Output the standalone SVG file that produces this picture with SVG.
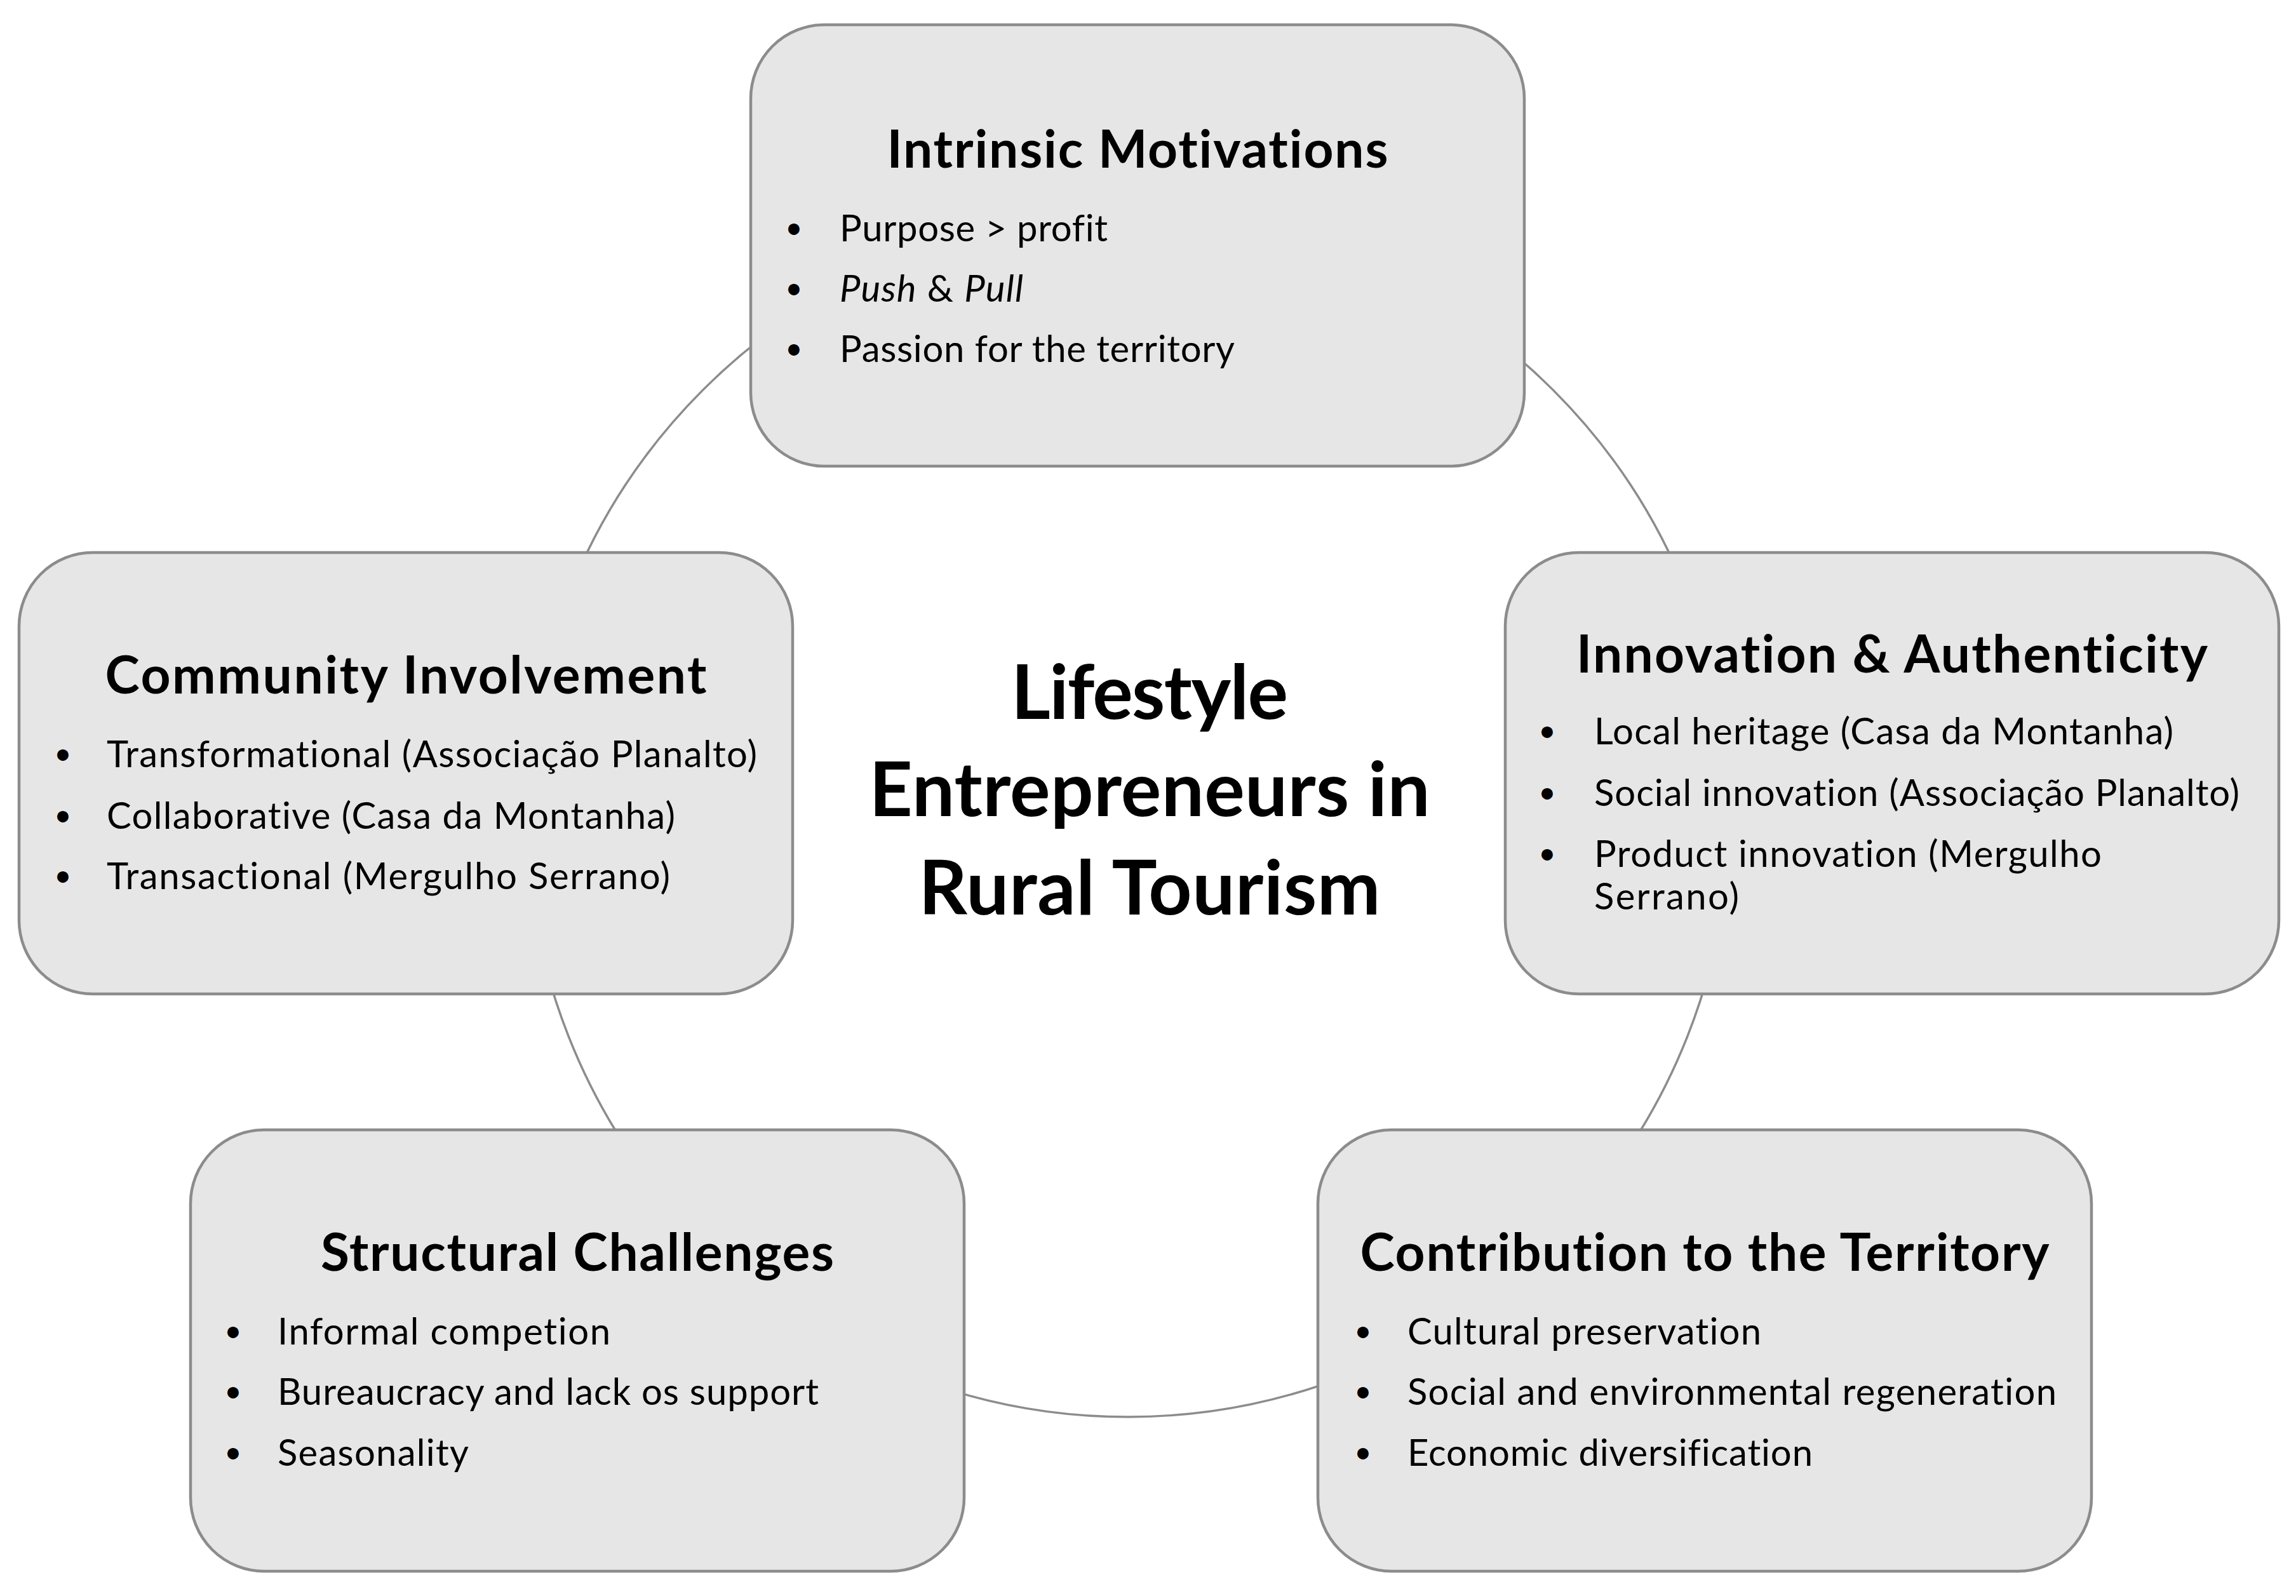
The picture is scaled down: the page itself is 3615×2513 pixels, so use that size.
<svg xmlns="http://www.w3.org/2000/svg" width="3615" height="2513" viewBox="0 0 3615 2513">
<style>
text{font-variant-ligatures:none;font-feature-settings:"liga" 0,"dlig" 0,"clig" 0}
.box{fill:#e7e6e6;stroke:#8c8c8c;stroke-width:4.5}
.ring{fill:none;stroke:#8c8c8c;stroke-width:3.5}
.ttl{font-family:Lato,"Open Sans","Liberation Sans",sans-serif;font-weight:bold;font-size:82px;fill:#000;text-anchor:middle}
.ctr{font-family:Lato,"Open Sans","Liberation Sans",sans-serif;font-weight:bold;font-size:119px;fill:#000;text-anchor:middle}
.itm{font-family:Lato,"Open Sans","Liberation Sans",sans-serif;font-size:58px;fill:#000}
.bul{font-family:Lato,"Open Sans","Liberation Sans",sans-serif;font-size:48px;fill:#000;text-anchor:middle}
.it{font-style:italic}
</style>
<rect width="3615" height="2513" fill="#fff"/>
<g id="connectors">
<circle class="ring" cx="1776" cy="1284" r="947"/>
</g>
<g id="center">
<text class="ctr" x="1810" y="1132" textLength="436">Lifestyle</text>
<text class="ctr" x="1810" y="1285" textLength="883">Entrepreneurs in</text>
<text class="ctr" x="1810" y="1440" textLength="727">Rural Tourism</text>
</g>
<g id="intrinsic-motivations">
<rect class="box" x="1182" y="39" width="1218" height="695" rx="116" ry="116"/>
<text class="ttl" x="1791" y="264" textLength="789">Intrinsic Motivations</text>
<text class="bul" x="1250" y="375">•</text>
<text class="itm" x="1322" y="380" textLength="422">Purpose &gt; profit</text>
<text class="bul" x="1250" y="470">•</text>
<text class="itm" x="1322" y="475" textLength="289"><tspan class="it">Push</tspan> &amp; <tspan class="it">Pull</tspan></text>
<text class="bul" x="1250" y="565">•</text>
<text class="itm" x="1322" y="570" textLength="622">Passion for the territory</text>
</g>
<g id="community-involvement">
<rect class="box" x="30" y="870" width="1218" height="695" rx="116" ry="116"/>
<text class="ttl" x="639" y="1092" textLength="947">Community Involvement</text>
<text class="bul" x="99" y="1203">•</text>
<text class="itm" x="168" y="1208" textLength="1024">Transformational (Associação Planalto)</text>
<text class="bul" x="99" y="1300">•</text>
<text class="itm" x="168" y="1305" textLength="895">Collaborative (Casa da Montanha)</text>
<text class="bul" x="99" y="1395">•</text>
<text class="itm" x="168" y="1400" textLength="887">Transactional (Mergulho Serrano)</text>
</g>
<g id="innovation-authenticity">
<rect class="box" x="2370" y="870" width="1218" height="695" rx="116" ry="116"/>
<text class="ttl" x="2979" y="1059" textLength="994">Innovation &amp; Authenticity</text>
<text class="bul" x="2436" y="1167">•</text>
<text class="itm" x="2510" y="1172" textLength="912">Local heritage (Casa da Montanha)</text>
<text class="bul" x="2436" y="1264">•</text>
<text class="itm" x="2510" y="1269" textLength="1016">Social innovation (Associação Planalto)</text>
<text class="bul" x="2436" y="1360">•</text>
<text class="itm" x="2510" y="1365" textLength="799">Product innovation (Mergulho</text>
<text class="itm" x="2510" y="1432" textLength="228">Serrano)</text>
</g>
<g id="structural-challenges">
<rect class="box" x="300" y="1779" width="1218" height="695" rx="116" ry="116"/>
<text class="ttl" x="909" y="2001" textLength="808">Structural Challenges</text>
<text class="bul" x="367" y="2112">•</text>
<text class="itm" x="437" y="2117" textLength="524">Informal competion</text>
<text class="bul" x="367" y="2207">•</text>
<text class="itm" x="437" y="2212" textLength="852">Bureaucracy and lack os support</text>
<text class="bul" x="367" y="2303">•</text>
<text class="itm" x="437" y="2308" textLength="301">Seasonality</text>
</g>
<g id="contribution-territory">
<rect class="box" x="2075" y="1779" width="1218" height="695" rx="116" ry="116"/>
<text class="ttl" x="2684" y="2001" textLength="1085">Contribution to the Territory</text>
<text class="bul" x="2146" y="2112">•</text>
<text class="itm" x="2216" y="2117" textLength="557">Cultural preservation</text>
<text class="bul" x="2146" y="2207">•</text>
<text class="itm" x="2216" y="2212" textLength="1022">Social and environmental regeneration</text>
<text class="bul" x="2146" y="2303">•</text>
<text class="itm" x="2216" y="2308" textLength="638">Economic diversification</text>
</g>
</svg>
